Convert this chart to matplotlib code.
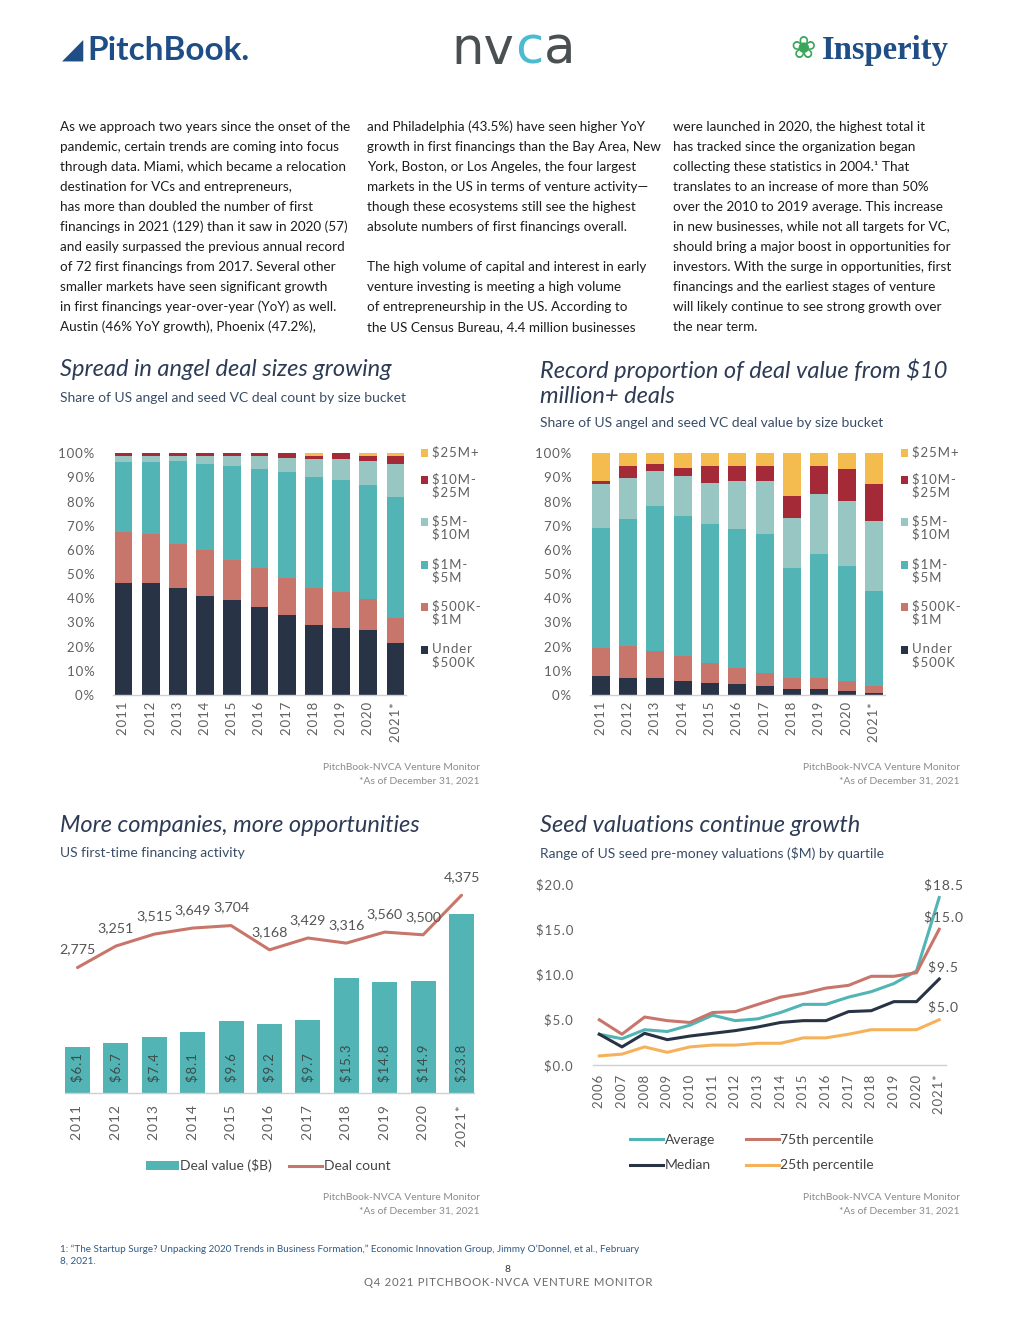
import matplotlib
matplotlib.use('Agg')
import matplotlib.pyplot as plt
from matplotlib.patches import Rectangle
from matplotlib.lines import Line2D
import numpy as np

plt.rcParams['font.family'] = ['Lato', 'DejaVu Sans']

# ---------------- data ----------------
years_a = ['2011', '2012', '2013', '2014', '2015', '2016', '2017', '2018', '2019', '2020', '2021*']
bucket_names = ['Under\n$500K', '$500K-\n$1M', '$1M-\n$5M', '$5M-\n$10M', '$10M-\n$25M', '$25M+']

# Chart 1: share of deal count (%)
cnt_under500k = [46.2, 46.2, 44.3, 41.0, 39.3, 36.4, 33.1, 29.0, 27.7, 26.9, 21.5]
cnt_500k_1m = [21.2, 20.4, 18.2, 19.0, 16.6, 16.2, 15.3, 15.3, 14.9, 12.8, 10.4]
cnt_1m_5m = [29.0, 29.8, 34.3, 35.6, 38.9, 40.9, 43.9, 45.9, 46.4, 47.2, 50.0]
cnt_5m_10m = [2.5, 2.5, 2.1, 3.3, 4.1, 5.4, 5.8, 7.5, 8.7, 9.9, 13.7]
cnt_10m_25m = [1.1, 1.1, 1.1, 1.1, 1.1, 1.1, 1.9, 1.2, 2.3, 2.1, 3.3]
cnt_25m_plus = [0.0, 0.0, 0.0, 0.0, 0.0, 0.0, 0.0, 1.1, 0.0, 1.1, 1.1]

# Chart 2: share of deal value (%)
val_under500k = [7.9, 7.0, 7.0, 5.8, 5.0, 4.6, 3.7, 2.5, 2.5, 1.7, 0.8]
val_500k_1m = [11.5, 13.3, 11.2, 10.3, 8.2, 6.6, 5.4, 4.5, 4.5, 4.1, 2.9]
val_1m_5m = [49.7, 52.5, 60.0, 58.0, 57.6, 57.5, 57.5, 45.6, 51.3, 47.6, 39.3]
val_5m_10m = [18.2, 17.0, 14.5, 16.5, 16.9, 19.9, 22.0, 20.6, 24.9, 26.9, 29.0]
val_10m_25m = [1.3, 5.0, 2.9, 3.3, 7.1, 6.2, 6.2, 9.1, 11.6, 13.2, 15.3]
val_25m_plus = [11.4, 5.2, 4.4, 6.1, 5.2, 5.2, 5.2, 17.7, 5.2, 6.5, 12.7]

# Chart 3: first-time financing
ft_deal_value = [6.1, 6.7, 7.4, 8.1, 9.6, 9.2, 9.7, 15.3, 14.8, 14.9, 23.8]
ft_deal_count = [2775, 3251, 3515, 3649, 3704, 3168, 3429, 3316, 3560, 3500, 4375]

# Chart 4: seed pre-money valuations ($M)
years_b = ['2006', '2007', '2008', '2009', '2010', '2011', '2012', '2013', '2014', '2015',
           '2016', '2017', '2018', '2019', '2020', '2021*']
seed_average = [3.4, 2.9, 3.9, 3.7, 4.4, 5.5, 4.9, 5.1, 5.8, 6.7, 6.7, 7.5, 8.1, 9.0, 10.4, 18.5]
seed_p75 = [5.0, 3.4, 5.3, 4.9, 4.7, 5.8, 5.9, 6.7, 7.5, 7.9, 8.5, 8.8, 9.8, 9.8, 10.2, 15.0]
seed_median = [3.4, 2.0, 3.5, 2.8, 3.2, 3.5, 3.8, 4.2, 4.7, 4.9, 4.9, 5.9, 6.0, 7.0, 7.0, 9.5]
seed_p25 = [1.0, 1.2, 2.0, 1.4, 2.0, 2.2, 2.2, 2.4, 2.4, 3.0, 3.0, 3.4, 3.9, 3.9, 3.9, 5.0]

# ---------------- style ----------------
NAVY = '#283445'
SALMON = '#C8756B'
TEAL = '#52B4B4'
LTEAL = '#98C6C2'
DRED = '#A52A38'
GOLD = '#F4BB4E'
ORANGE = '#F6B25A'
bucket_colors = [NAVY, SALMON, TEAL, LTEAL, DRED, GOLD]
TICK = '#606060'
TITLE_C = '#2E3B55'
SUB_C = '#3A4D66'
BODY_C = '#1c1c1c'
SRC_C = '#8a8a8a'
HS = '\u200a'  # hair space for letter spacing

W, H = 1020, 1320
fig = plt.figure(figsize=(W / 100, H / 100), dpi=100)
fig.patch.set_facecolor('white')
renderer = fig.canvas.get_renderer()


def add_ax(x0, y0, x1, y1):
    return fig.add_axes([x0 / W, 1 - y1 / H, (x1 - x0) / W, (y1 - y0) / H])


def ftext(x, y, s, **kw):
    kw.setdefault('va', 'center')
    return fig.text(x / W, 1 - y / H, s, **kw)


def spaced(s):
    return HS.join(s)


# ---------------- logos (text approximations) ----------------
ftext(62, 50, '\u25e2', fontsize=20, color='#1F4E86', family=['DejaVu Sans'])
ftext(87, 51, 'PitchBook.', fontsize=24, color='#1F4E86', fontweight='bold')
x_cur = 451
for part, col in (('nv', '#4A4F52'), ('c', '#4BBBD2'), ('a', '#4A4F52')):
    t = ftext(x_cur, 50, part, fontsize=37, color=col, family=['DejaVu Sans'])
    bb = t.get_window_extent(renderer)
    x_cur += bb.width + 1
ftext(790, 50, '\u2740', fontsize=22, color='#3BA55C', family=['DejaVu Sans'])
ftext(822, 51, 'Insperity', fontsize=23.5, color='#1F4E86', fontweight='bold',
      family=['Liberation Serif', 'DejaVu Serif'])

# ---------------- body text ----------------
col1 = ["As we approach two years since the onset of the",
        "pandemic, certain trends are coming into focus",
        "through data. Miami, which became a relocation",
        "destination for VCs and entrepreneurs,",
        "has more than doubled the number of first",
        "financings in 2021 (129) than it saw in 2020 (57)",
        "and easily surpassed the previous annual record",
        "of 72 first financings from 2017. Several other",
        "smaller markets have seen significant growth",
        "in first financings year-over-year (YoY) as well.",
        "Austin (46% YoY growth), Phoenix (47.2%),"]
col2 = ["and Philadelphia (43.5%) have seen higher YoY",
        "growth in first financings than the Bay Area, New",
        "York, Boston, or Los Angeles, the four largest",
        "markets in the US in terms of venture activity\u2014",
        "though these ecosystems still see the highest",
        "absolute numbers of first financings overall.",
        "",
        "The high volume of capital and interest in early",
        "venture investing is meeting a high volume",
        "of entrepreneurship in the US. According to",
        "the US Census Bureau, 4.4 million businesses"]
col3 = ["were launched in 2020, the highest total it",
        "has tracked since the organization began",
        "collecting these statistics in 2004.\u00b9 That",
        "translates to an increase of more than 50%",
        "over the 2010 to 2019 average. This increase",
        "in new businesses, while not all targets for VC,",
        "should bring a major boost in opportunities for",
        "investors. With the surge in opportunities, first",
        "financings and the earliest stages of venture",
        "will likely continue to see strong growth over",
        "the near term."]
for cx, lines in ((60, col1), (367, col2), (673, col3)):
    for i, line in enumerate(lines):
        ftext(cx, 127 + 20 * i, line, fontsize=9.7, color=BODY_C)

# ---------------- titles ----------------
TS = 17
SS = 10.0
ftext(60, 370, 'Spread in angel deal sizes growing', fontsize=TS, style='italic', color=TITLE_C)
ftext(60, 398, 'Share of US angel and seed VC deal count by size bucket', fontsize=SS, color=SUB_C)
ftext(540, 370, 'Record proportion of deal value from $10', fontsize=TS, style='italic', color=TITLE_C)
ftext(540, 396, 'million+ deals', fontsize=TS, style='italic', color=TITLE_C)
ftext(540, 423, 'Share of US angel and seed VC deal value by size bucket', fontsize=SS, color=SUB_C)
ftext(60, 825, 'More companies, more opportunities', fontsize=TS, style='italic', color=TITLE_C)
ftext(60, 853, 'US first-time financing activity', fontsize=SS, color=SUB_C)
ftext(540, 825, 'Seed valuations continue growth', fontsize=TS, style='italic', color=TITLE_C)
ftext(540, 853, 'Range of US seed pre-money valuations ($M) by quartile', fontsize=SS, color=SUB_C)

# sources
for rx, y1 in ((480, 767), (960, 767), (480, 1197), (960, 1197)):
    ftext(rx, y1, 'PitchBook-NVCA Venture Monitor', fontsize=7.4, color=SRC_C, ha='right')
    ftext(rx, y1 + 14, '*As of December 31, 2021', fontsize=7.4, color=SRC_C, ha='right')

# footer
ftext(60, 1249, '1: \u201cThe Startup Surge? Unpacking 2020 Trends in Business Formation,\u201d Economic Innovation Group, Jimmy O\u2019Donnel, et al., February',
      fontsize=7.1, color='#2E5A87')
ftext(60, 1261, '8, 2021.', fontsize=7.1, color='#2E5A87')
ftext(508, 1269, '8', fontsize=7.5, color='#333333', ha='center')
ftext(508, 1283, spaced('Q4 2021 PITCHBOOK-NVCA VENTURE MONITOR'), fontsize=8.2, color='#6a6a6a', ha='center')

TFS = 9.5  # tick font size


def style_axis(ax):
    for s in ('top', 'right', 'left'):
        ax.spines[s].set_visible(False)
    ax.spines['bottom'].set_color('#d0d0d0')
    ax.spines['bottom'].set_linewidth(1.0)
    ax.tick_params(length=0, colors=TICK, labelsize=TFS)
    ax.set_facecolor('none')


# ---------------- stacked bar charts ----------------
def stacked(ax, series, legend_x):
    x = np.arange(len(years_a))
    bottom = np.zeros(len(years_a))
    for vals, col in zip(series, bucket_colors):
        ax.bar(x, vals, 0.66, bottom=bottom, color=col, linewidth=0)
        bottom += np.array(vals)
    ax.set_xlim(-0.4, len(years_a) - 0.6)
    ax.set_ylim(0, 100)
    ax.set_yticks(range(0, 101, 10))
    ax.set_yticklabels([spaced(f'{v}%') for v in range(0, 101, 10)])
    ax.set_xticks(x)
    ax.set_xticklabels([spaced(y) for y in years_a], rotation=90)
    style_axis(ax)
    ax.tick_params(axis='y', pad=13)
    ax.tick_params(axis='x', pad=5)
    # legend (top to bottom: largest bucket first)
    ys = [453, 480, 522, 565, 607, 650]
    for yy, name, col in zip(ys, bucket_names[::-1], bucket_colors[::-1]):
        fig.patches.append(Rectangle((legend_x / W, 1 - (yy + 4) / H), 7 / W, 8 / H,
                                     transform=fig.transFigure, color=col, linewidth=0))
        ftext(legend_x + 11, yy - 7, '\n'.join(spaced(p) for p in name.split('\n')),
              fontsize=TFS, color=TICK, va='top', linespacing=1.08)


ax1 = add_ax(112.6, 453.3, 406.4, 695)
stacked(ax1, [cnt_under500k, cnt_500k_1m, cnt_1m_5m, cnt_5m_10m, cnt_10m_25m, cnt_25m_plus], 421)
ax2 = add_ax(589.6, 453.3, 885.0, 695)
stacked(ax2, [val_under500k, val_500k_1m, val_1m_5m, val_5m_10m, val_10m_25m, val_25m_plus], 901)

# ---------------- chart 3 ----------------
ax3 = add_ax(64.8, 867, 474.2, 1093)
x3 = np.arange(len(years_a))
ax3.bar(x3, ft_deal_value, 0.65, color=TEAL, linewidth=0)
ax3.set_ylim(0, 30)
ax3.set_xlim(-0.33, len(years_a) - 0.67)
ax3.set_yticks([])
ax3.set_xticks(x3)
ax3.set_xticklabels([spaced(y) for y in years_a], rotation=90)
style_axis(ax3)
ax3.tick_params(axis='x', pad=9, labelsize=10)
for xi, v in zip(x3, ft_deal_value):
    ax3.annotate(spaced(f'${v:.1f}'), (xi, 0), xytext=(0, 11), textcoords='offset pixels',
                 rotation=90, ha='center', va='bottom', fontsize=9.5, color='#3b4b4b')
ax3b = ax3.twinx()
ax3b.plot(x3, ft_deal_count, color=SALMON, linewidth=2.2, solid_capstyle='round')
ax3b.set_ylim(0, 5000)
ax3b.set_yticks([])
for s in ax3b.spines.values():
    s.set_visible(False)
for xi, v in zip(x3, ft_deal_count):
    ax3b.annotate(f'{v:,}', (xi, v), xytext=(0, 12), textcoords='offset pixels',
                  ha='center', va='bottom', fontsize=10.3, color='#555555',
                  annotation_clip=False)
h1 = Rectangle((0, 0), 1, 1, color=TEAL, linewidth=0)
h2 = Line2D([0], [0], color=SALMON, linewidth=2.2)
fig.legend([h1, h2], ['Deal value ($B)', 'Deal count'], loc='center',
           bbox_to_anchor=(268 / W, 1 - 1166 / H), ncol=2, frameon=False,
           fontsize=10, handlelength=2.4, handletextpad=0.1, columnspacing=1.2,
           labelcolor='#444444', handleheight=0.6)

# ---------------- chart 4 ----------------
ax4 = add_ax(592.5, 884, 946, 1065)
x4 = np.arange(len(years_b))
l_avg, = ax4.plot(x4, seed_average, color=TEAL, linewidth=2.2)
l_p75, = ax4.plot(x4, seed_p75, color=SALMON, linewidth=2.2)
l_med, = ax4.plot(x4, seed_median, color=NAVY, linewidth=2.2)
l_p25, = ax4.plot(x4, seed_p25, color=ORANGE, linewidth=2.2)
ax4.set_xlim(-0.3, len(years_b) - 0.7)
ax4.set_ylim(0, 20)
ax4.set_yticks(range(0, 21, 5))
ax4.set_yticklabels([spaced(f'${v:.1f}') for v in range(0, 21, 5)])
ax4.set_xticks(x4)
ax4.set_xticklabels([spaced(y) for y in years_b], rotation=90)
style_axis(ax4)
ax4.tick_params(axis='y', pad=14)
ax4.tick_params(axis='x', pad=7)
for series in (seed_average, seed_p75, seed_median, seed_p25):
    ax4.annotate(spaced(f'${series[-1]:.1f}'), (x4[-1], series[-1]), xytext=(4, 6),
                 textcoords='offset pixels', ha='center', va='bottom',
                 fontsize=10, color='#555555', annotation_clip=False)
fig.legend([l_avg, l_med, l_p75, l_p25], ['Average', 'Median', '75th percentile', '25th percentile'],
           loc='center', bbox_to_anchor=(752 / W, 1 - 1152.5 / H), ncol=2, frameon=False,
           fontsize=10, handlelength=2.4, handletextpad=0.1, columnspacing=2.2,
           labelspacing=1.0, labelcolor='#444444')

fig.savefig('out.png', dpi=100, facecolor='white')
